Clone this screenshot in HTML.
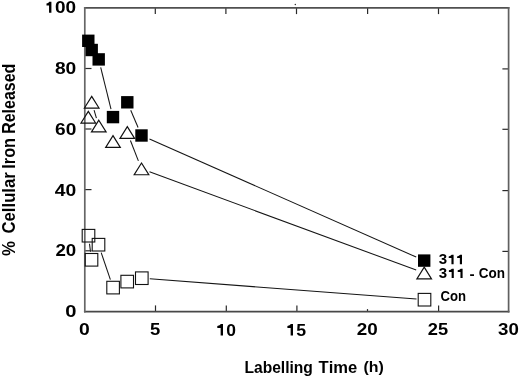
<!DOCTYPE html>
<html><head><meta charset="utf-8"><style>
html,body{margin:0;padding:0;background:#fff;}
svg{display:block;will-change:transform;}
text{font-family:"Liberation Sans",sans-serif;font-weight:bold;fill:#000;font-kerning:none;}
</style></head><body>
<svg width="520" height="378" viewBox="0 0 520 378">
<rect width="520" height="378" fill="#fff"/>
<g stroke="#151515" stroke-width="1.05" fill="none">
<line x1="100.68" y1="67.40" x2="111.02" y2="109.10"/>
<line x1="130.72" y1="110.30" x2="138.08" y2="127.50"/>
<line x1="149.50" y1="139.04" x2="416.20" y2="257.06"/>
<line x1="94.08" y1="110.20" x2="96.42" y2="118.10"/>
<line x1="130.42" y1="140.50" x2="138.38" y2="160.90"/>
<line x1="149.50" y1="171.85" x2="416.20" y2="270.05"/>
<line x1="89.50" y1="243.70" x2="90.50" y2="251.80"/>
<line x1="101.22" y1="252.70" x2="110.38" y2="279.60"/>
<line x1="149.80" y1="278.81" x2="416.50" y2="299.09"/>
</g>
<g stroke="#2a2a2a" stroke-width="1.2">
<line x1="155.30" y1="7.9" x2="155.30" y2="14.100000000000001"/>
<line x1="225.90" y1="7.9" x2="225.90" y2="14.100000000000001"/>
<line x1="296.50" y1="7.9" x2="296.50" y2="14.100000000000001"/>
<line x1="367.60" y1="7.9" x2="367.60" y2="14.100000000000001"/>
<line x1="438.50" y1="7.9" x2="438.50" y2="14.100000000000001"/>
<line x1="155.50" y1="311.6" x2="155.50" y2="305.40000000000003"/>
<line x1="226.30" y1="311.6" x2="226.30" y2="305.40000000000003"/>
<line x1="296.90" y1="311.6" x2="296.90" y2="305.40000000000003"/>
<line x1="367.50" y1="311.6" x2="367.50" y2="309.1"/>
<line x1="438.60" y1="311.6" x2="438.60" y2="305.40000000000003"/>
<line x1="84.8" y1="250.80" x2="91.5" y2="250.80"/>
<line x1="84.8" y1="189.60" x2="91.5" y2="189.60"/>
<line x1="84.8" y1="129.00" x2="91.5" y2="129.00"/>
<line x1="84.8" y1="68.50" x2="91.5" y2="68.50"/>
<line x1="508.6" y1="251.40" x2="502.40000000000003" y2="251.40"/>
<line x1="508.6" y1="190.60" x2="502.40000000000003" y2="190.60"/>
<line x1="508.6" y1="129.30" x2="502.40000000000003" y2="129.30"/>
<line x1="508.6" y1="68.90" x2="502.40000000000003" y2="68.90"/>
</g>
<g stroke-width="1.7" stroke-linecap="square" fill="none">
<line x1="84.8" y1="7.9" x2="508.6" y2="7.9" stroke="#505050"/>
<line x1="84.8" y1="311.6" x2="508.6" y2="311.6" stroke="#484848"/>
<line x1="84.8" y1="7.9" x2="84.8" y2="311.6" stroke="#666"/>
<line x1="508.6" y1="7.9" x2="508.6" y2="311.6" stroke="#606060"/>
</g>
<rect x="82.10" y="34.60" width="12.4" height="12.4" fill="#000"/>
<rect x="85.50" y="43.80" width="12.4" height="12.4" fill="#000"/>
<rect x="92.50" y="53.20" width="12.4" height="12.4" fill="#000"/>
<rect x="106.80" y="110.90" width="12.4" height="12.4" fill="#000"/>
<rect x="121.10" y="96.10" width="12.4" height="12.4" fill="#000"/>
<rect x="135.30" y="129.30" width="12.4" height="12.4" fill="#000"/>
<rect x="418.00" y="254.40" width="12.4" height="12.4" fill="#000"/>
<path d="M88.30,111.35 L95.60,123.05 L81.00,123.05Z" fill="none" stroke="#111" stroke-width="1.2"/>
<path d="M91.70,96.35 L99.00,108.05 L84.40,108.05Z" fill="none" stroke="#111" stroke-width="1.2"/>
<path d="M98.80,120.25 L106.10,131.95 L91.50,131.95Z" fill="none" stroke="#111" stroke-width="1.2"/>
<path d="M113.00,135.65 L120.30,147.35 L105.70,147.35Z" fill="none" stroke="#111" stroke-width="1.2"/>
<path d="M127.30,126.65 L134.60,138.35 L120.00,138.35Z" fill="none" stroke="#111" stroke-width="1.2"/>
<path d="M141.50,163.05 L148.80,174.75 L134.20,174.75Z" fill="none" stroke="#111" stroke-width="1.2"/>
<path d="M424.20,267.15 L431.50,278.85 L416.90,278.85Z" fill="none" stroke="#111" stroke-width="1.2"/>
<rect x="82.20" y="229.40" width="12.6" height="12.6" fill="none" stroke="#111" stroke-width="1.1"/>
<rect x="85.20" y="253.50" width="12.6" height="12.6" fill="none" stroke="#111" stroke-width="1.1"/>
<rect x="92.20" y="238.40" width="12.6" height="12.6" fill="none" stroke="#111" stroke-width="1.1"/>
<rect x="106.80" y="281.30" width="12.6" height="12.6" fill="none" stroke="#111" stroke-width="1.1"/>
<rect x="120.90" y="275.30" width="12.6" height="12.6" fill="none" stroke="#111" stroke-width="1.1"/>
<rect x="135.50" y="271.90" width="12.6" height="12.6" fill="none" stroke="#111" stroke-width="1.1"/>
<rect x="418.20" y="293.40" width="12.6" height="12.6" fill="none" stroke="#111" stroke-width="1.1"/>
<circle cx="295.3" cy="4.6" r="0.75" fill="#333"/>
<text font-size="16.5" transform="matrix(1.1513,0,0,0.9930,55.049,12.940)">00</text>
<text font-size="16.5" transform="matrix(1.1660,0,0,0.9844,54.889,73.941)">80</text>
<text font-size="16.5" transform="matrix(1.1598,0,0,0.9930,55.099,134.740)">60</text>
<text font-size="16.5" transform="matrix(1.1706,0,0,0.9930,54.808,195.540)">40</text>
<text font-size="16.5" transform="matrix(1.1342,0,0,0.9930,55.451,256.340)">20</text>
<text font-size="16.5" transform="matrix(1.2234,0,0,0.9930,65.302,317.040)">0</text>
<text font-size="16.5" transform="matrix(1.1724,0,0,1.0101,78.935,335.437)">0</text>
<text font-size="16.5" transform="matrix(1.1206,0,0,1.0249,150.031,335.435)">5</text>
<text font-size="16.5" transform="matrix(1.0577,0,0,1.0272,226.210,335.534)">0</text>
<text font-size="16.5" transform="matrix(1.0719,0,0,1.0249,296.356,335.635)">5</text>
<text font-size="16.5" transform="matrix(1.1459,0,0,1.0101,356.645,335.437)">20</text>
<text font-size="16.5" transform="matrix(1.1084,0,0,1.0101,427.866,335.437)">25</text>
<text font-size="16.5" transform="matrix(1.1331,0,0,1.0080,498.071,335.413)">30</text>
<text font-size="15.5" transform="matrix(1.0067,0,0,1.0609,244.456,373.315)">Labelling</text>
<text font-size="15.5" transform="matrix(1.0684,0,0,1.0191,318.614,373.046)">Time</text>
<text font-size="15.5" transform="matrix(1.0248,0,0,0.9413,363.409,372.172)">(h)</text>
<text font-size="13.5" transform="matrix(1.1177,0,0,1.0232,438.854,264.245)">3</text>
<text font-size="13.5" transform="matrix(1.1177,0,0,1.0232,438.854,278.145)">3</text>
<text font-size="13.5" transform="matrix(1.1378,0,0,1.1191,469.500,278.617)">-</text>
<text font-size="13.5" transform="matrix(1.0020,0,0,1.0253,478.845,278.165)">Con</text>
<text font-size="13.5" transform="matrix(0.9738,0,0,1.0253,440.561,300.965)">Con</text>
<text font-size="16" transform="matrix(0,-0.9979,1.0979,0,14.928,133.768)">Released</text>
<text font-size="16" transform="matrix(0,-1.0158,1.1376,0,14.922,168.687)">Iron</text>
<text font-size="16" transform="matrix(0,-1.0452,1.0979,0,14.928,233.486)">Cellular</text>
<text font-size="16" transform="matrix(0,-1.0517,1.1370,0,14.758,255.919)">%</text>
<path d="M51.40,1.70 L51.40,12.80 L49.05,12.80 L49.05,5.47 L46.50,5.47 L46.50,3.59 Q48.45,3.25 49.25,1.70 Z" fill="#000"/>
<path d="M223.00,324.00 L223.00,335.60 L220.65,335.60 L220.65,327.94 L217.30,327.94 L217.30,325.97 Q220.05,325.62 220.85,324.00 Z" fill="#000"/>
<path d="M293.00,324.00 L293.00,335.60 L290.65,335.60 L290.65,327.94 L287.40,327.94 L287.40,325.97 Q290.05,325.62 290.85,324.00 Z" fill="#000"/>
<path d="M453.60,254.80 L453.60,264.20 L451.45,264.20 L451.45,258.00 L448.70,258.00 L448.70,256.40 Q450.85,256.12 451.65,254.80 Z" fill="#000"/>
<path d="M462.00,254.80 L462.00,264.20 L459.85,264.20 L459.85,258.00 L457.10,258.00 L457.10,256.40 Q459.25,256.12 460.05,254.80 Z" fill="#000"/>
<path d="M453.80,268.70 L453.80,278.10 L451.65,278.10 L451.65,271.90 L448.90,271.90 L448.90,270.30 Q451.05,270.02 451.85,268.70 Z" fill="#000"/>
<path d="M462.60,268.70 L462.60,278.10 L460.45,278.10 L460.45,271.90 L457.70,271.90 L457.70,270.30 Q459.85,270.02 460.65,268.70 Z" fill="#000"/>
</svg>
</body></html>
